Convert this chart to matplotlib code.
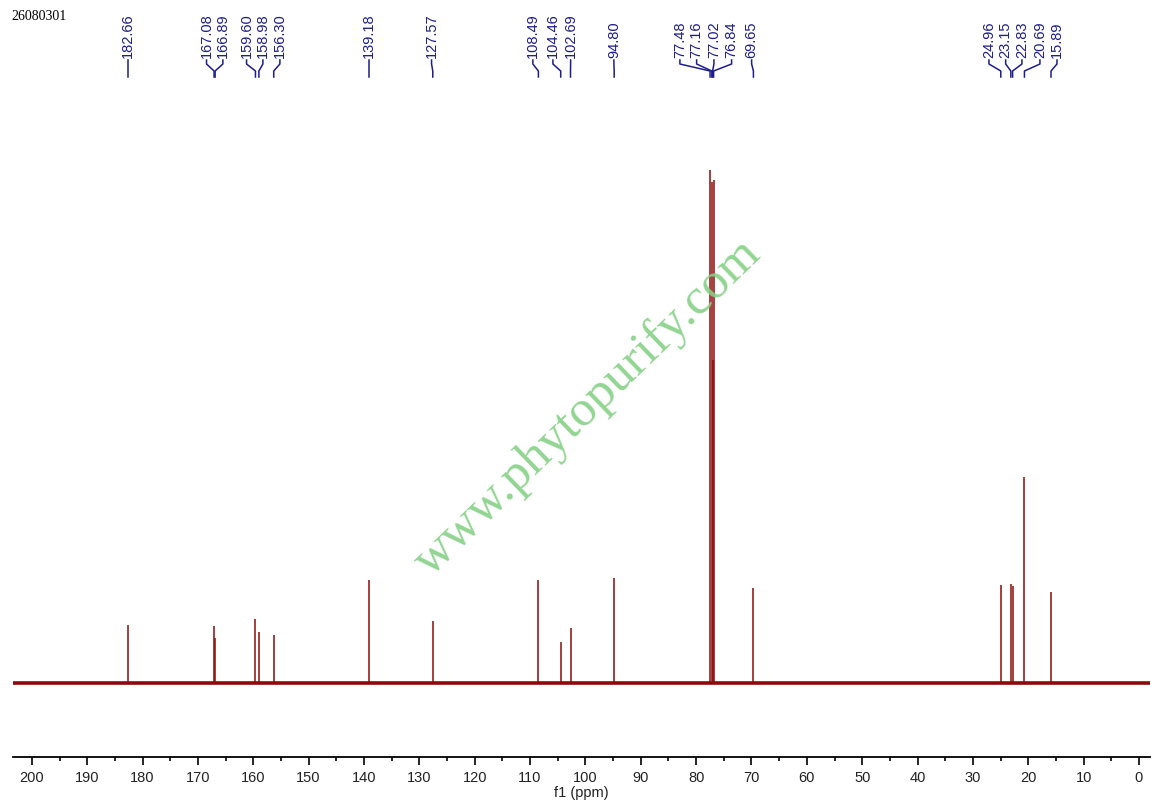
import matplotlib
matplotlib.use("Agg")
import matplotlib.pyplot as plt
from matplotlib.ticker import MultipleLocator
from matplotlib.transforms import blended_transform_factory

# Peak positions (ppm) and heights (baseline = 0)
peak_ppm = [182.66, 167.08, 166.89, 159.60, 158.98, 156.30, 139.18, 127.57,
            108.49, 104.46, 102.69, 94.80, 77.48, 77.16, 77.02, 76.84, 69.65,
            24.96, 23.15, 22.83, 20.69, 15.89]
peak_height = [58, 57, 45, 64, 51, 48, 103, 62,
               103, 41, 55, 105, 513, 501, 323, 503, 95,
               98, 99, 97, 206, 91]
peak_labels = ["182.66", "167.08", "166.89", "159.60", "158.98", "156.30", "139.18", "127.57",
               "108.49", "104.46", "102.69", "94.80", "77.48", "77.16", "77.02", "76.84", "69.65",
               "24.96", "23.15", "22.83", "20.69", "15.89"]
# where each label text sits along the axis (ppm), spread out to avoid overlap
label_ppm = [182.66, 168.44, 165.49, 161.21, 158.26, 155.19, 139.18, 127.79,
             109.49, 105.87, 102.67, 94.85, 82.93, 79.91, 76.78, 73.59, 69.97,
             27.10, 24.08, 21.14, 17.89, 14.81]

spec_color = "#8b0a0a"
label_color = "#1c1c8c"

fig = plt.figure(figsize=(11.65, 8.07), dpi=100)
ax = fig.add_axes([0.01116, 0.062, 0.976, 0.814])

# baseline and peaks
ax.plot([203.4, -2.0], [0, 0], color=spec_color, lw=2.6, solid_capstyle="butt")
ax.vlines(peak_ppm, 0, peak_height, color=spec_color, lw=1.1)

ax.set_xlim(203.4, -2.0)
ax.set_ylim(-74, 583)

for s in ["top", "left", "right"]:
    ax.spines[s].set_visible(False)
ax.spines["bottom"].set_linewidth(1.3)
ax.set_yticks([])
ax.xaxis.set_major_locator(MultipleLocator(10))
ax.xaxis.set_minor_locator(MultipleLocator(5))
ax.tick_params(axis="x", which="major", length=6, width=1.2, labelsize=10.5, pad=4,
               labelcolor="#222222")
ax.tick_params(axis="x", which="minor", length=3, width=1.2)
for lab in ax.get_xticklabels():
    lab.set_fontfamily("Liberation Sans")
ax.set_xlabel("f1 (ppm)", fontsize=10.5, fontfamily="Liberation Sans", labelpad=1,
              color="#222222")

# peak labels with connector lines above the plot
tr = blended_transform_factory(ax.transData, fig.transFigure)
def fy(px):
    return 1 - px / 807.0

for p, lp, txt in zip(peak_ppm, label_ppm, peak_labels):
    ax.plot([lp, lp, p, p], [fy(60), fy(64), fy(71), fy(77)], color=label_color,
            lw=1.1, transform=tr, clip_on=False)
    ax.text(lp, fy(58), txt, rotation=90, ha="center", va="bottom", fontsize=10.5,
            color=label_color, fontfamily="Liberation Sans", transform=tr, clip_on=False)

fig.text(11 / 1165, fy(17), "26080301", fontsize=10, fontfamily="Liberation Serif",
         color="black", ha="left", va="center")

# watermark
fig.text(588 / 1165, fy(408), "www.phytopurify.com", rotation=44, fontsize=37,
         fontfamily="Liberation Serif", color="#86d186", ha="center", va="center", alpha=0.9)

fig.savefig("out.png", dpi=100)
